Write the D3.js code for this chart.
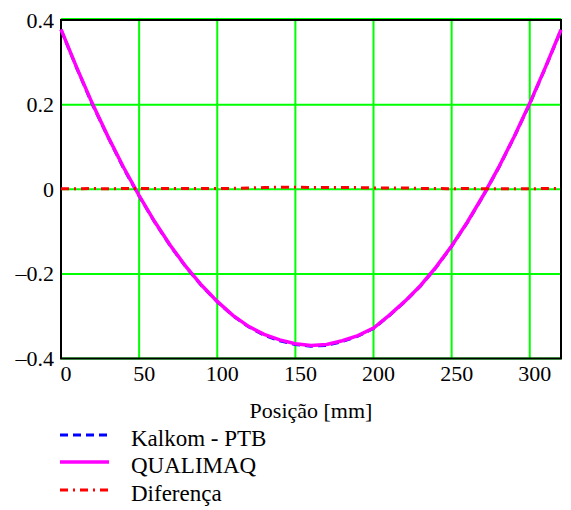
<!DOCTYPE html>
<html><head><meta charset="utf-8"><script src="https://cdn.jsdelivr.net/npm/d3@7"></script></head>
<body style="margin:0">
<svg id="chart" width="571" height="510"></svg>
<script>
const positions = [0,10,20,30,40,50,60,70,80,90,100,110,120,130,140,150,160,170,180,190,200,210,220,230,240,250,260,270,280,290,300,310,320];
const kalkom = [0.377,0.287,0.201,0.124,0.050,-0.016,-0.078,-0.134,-0.184,-0.228,-0.266,-0.299,-0.325,-0.345,-0.358,-0.367,-0.371,-0.369,-0.360,-0.347,-0.329,-0.299,-0.266,-0.229,-0.185,-0.135,-0.079,-0.017,0.050,0.123,0.202,0.287,0.376];
const qualimaq = [0.378,0.288,0.203,0.125,0.052,-0.015,-0.077,-0.133,-0.183,-0.227,-0.265,-0.298,-0.324,-0.343,-0.356,-0.365,-0.369,-0.367,-0.358,-0.346,-0.328,-0.298,-0.265,-0.228,-0.184,-0.134,-0.078,-0.016,0.051,0.124,0.203,0.288,0.377];
const diferenca = [0.001,0.001,0.002,0.001,0.002,0.002,0.002,0.002,0.002,0.002,0.002,0.002,0.003,0.004,0.005,0.005,0.004,0.004,0.004,0.004,0.003,0.003,0.003,0.002,0.002,0.001,0.002,0.001,0.001,0.001,0.001,0.002,0.002];
const xTicks = [0,50,100,150,200,250,300];
const yTicks = [-0.4,-0.2,0,0.2,0.4];
const yTickLabels = ["\u20130.4","\u20130.2","0","0.2","0.4"];
const seriesNames = ["Kalkom - PTB","QUALIMAQ","Diferença"];
const xTitle = "Posição [mm]";

const svg = d3.select("#chart");
const L = 61, R = 561, T = 20, B = 358.5;
const x = d3.scaleLinear().domain([0,320]).range([L,R]);
const y = d3.scaleLinear().domain([-0.4,0.4]).range([B,T]);
const green = "#00ff00";

function label(sel, size) {
  return sel.style("font-family", "Liberation Serif").attr("font-family", "Liberation Serif").attr("font-size", size);
}

svg.append("g").selectAll("line").data(xTicks.filter(d=>d>0)).join("line")
  .attr("x1",d=>x(d)).attr("x2",d=>x(d)).attr("y1",T).attr("y2",B)
  .attr("stroke",green).attr("stroke-width",2);
svg.append("g").selectAll("line").data(yTicks).join("line")
  .attr("x1",L).attr("x2",R).attr("y1",d=>y(d)-(d===0.4?1:0)).attr("y2",d=>y(d)-(d===0.4?1:0))
  .attr("stroke",green).attr("stroke-width",2);

svg.append("rect").attr("x",L).attr("y",T).attr("width",R-L).attr("height",B-T)
  .attr("fill","none").attr("stroke","#000").attr("stroke-width",2);

const line = (vals) => d3.line().x((d,i)=>x(positions[i])).y(d=>y(d))(vals);

svg.append("path").attr("d",line(kalkom)).attr("fill","none")
  .attr("stroke","#0000ff").attr("stroke-width",3).attr("stroke-dasharray","8,5");
svg.append("path").attr("d",line(qualimaq)).attr("fill","none")
  .attr("stroke","#ff00ff").attr("stroke-width",3.5);
svg.append("path").attr("d",line(diferenca)).attr("fill","none")
  .attr("stroke","#ff0000").attr("stroke-width",3).attr("stroke-dasharray","8,5,2,5");

xTicks.forEach(d=>{
  label(svg.append("text"),22).attr("x",x(d)+5).attr("y",B+22).attr("text-anchor","middle").text(d);
});
yTicks.forEach((d,i)=>{
  label(svg.append("text"),22).attr("x",54).attr("y",y(d)+7.5).attr("text-anchor","end").text(yTickLabels[i]);
});
label(svg.append("text"),22).attr("x",(L+R)/2).attr("y",418).attr("text-anchor","middle").text(xTitle);

const legStyles = [
  {stroke:"#0000ff",dash:"8,5",w:3},
  {stroke:"#ff00ff",dash:null,w:3.5},
  {stroke:"#ff0000",dash:"8,5,2,5",w:3}
];
const legY = [435,462,490];
seriesNames.forEach((n,i)=>{
  svg.append("line").attr("x1",60).attr("x2",109).attr("y1",legY[i]).attr("y2",legY[i])
    .attr("stroke",legStyles[i].stroke).attr("stroke-width",legStyles[i].w)
    .attr("stroke-dasharray",legStyles[i].dash);
  label(svg.append("text"),23).attr("x",131).attr("y",legY[i]+11).text(n);
});
</script>
</body>
</html>
